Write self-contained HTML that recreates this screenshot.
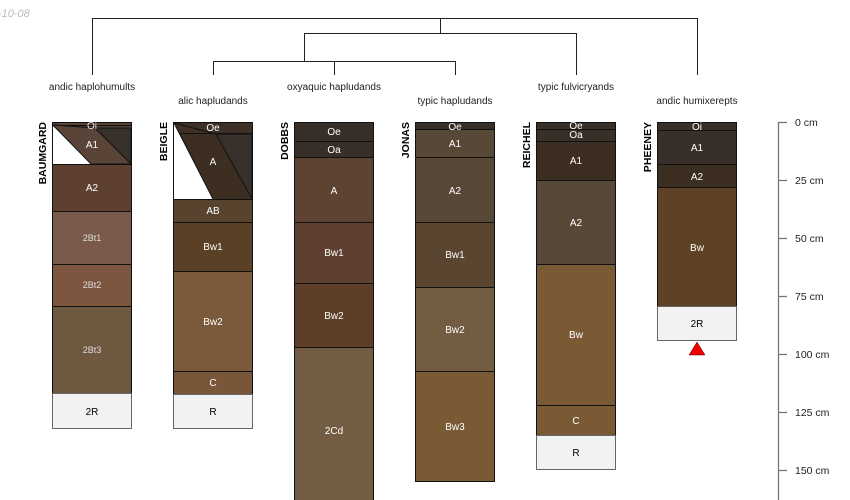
<!DOCTYPE html>
<html><head><meta charset="utf-8"><style>
html,body{margin:0;padding:0;background:#fff;}
svg{display:block;font-family:"Liberation Sans",sans-serif;}
</style></head><body>
<svg width="850" height="500" viewBox="0 0 850 500" xmlns="http://www.w3.org/2000/svg">
<text x="-2" y="17" font-size="11" font-style="italic" fill="#bbb">-10-08</text>
<g stroke="#222" stroke-width="1" fill="none">
<path d="M92.5 75V18.5H697.5V75"/>
<path d="M440.5 18.5V33.5"/>
<path d="M304.5 61V33.5H576.5V75"/>
<path d="M213.5 75V61.5H455.5V75"/>
<path d="M334.5 61.5V75"/>
</g>
<g font-size="10" fill="#222" text-anchor="middle">
<text x="92" y="90">andic haplohumults</text>
<text x="213" y="104">alic hapludands</text>
<text x="334" y="90">oxyaquic hapludands</text>
<text x="455" y="104">typic hapludands</text>
<text x="576" y="90">typic fulvicryands</text>
<text x="697" y="104">andic humixerepts</text>
</g>
<g font-size="10.5" font-weight="bold" fill="#000" text-anchor="end">
<text transform="translate(46,122) rotate(-90)">BAUMGARD</text>
<text transform="translate(167,122) rotate(-90)">BEIGLE</text>
<text transform="translate(288,122) rotate(-90)">DOBBS</text>
<text transform="translate(409,122) rotate(-90)">JONAS</text>
<text transform="translate(530,122) rotate(-90)">REICHEL</text>
<text transform="translate(651,122) rotate(-90)">PHEENEY</text>
</g>
<g stroke="#111" stroke-width="1">
<rect x="52.5" y="122.5" width="79" height="3" fill="#5a4438"/>
<rect x="52.5" y="125.5" width="79" height="39" fill="#5a4438"/>
<polygon points="53,126 91,164 53,164" fill="#fff" stroke="none"/>
<polygon points="53,125 131,164 131,128 95,128" fill="#38302a" stroke="#111"/>
<polygon points="53,125 91,164 131,164 95,128" fill="#5a4438" stroke="#111"/>
<rect x="52.5" y="164.5" width="79" height="47" fill="#5e4030"/>
<rect x="52.5" y="211.5" width="79" height="53" fill="#7a5a4a"/>
<rect x="52.5" y="264.5" width="79" height="42" fill="#7e5640"/>
<rect x="52.5" y="306.5" width="79" height="87" fill="#6e5840"/>
<rect x="52.5" y="393.5" width="79" height="35" fill="#f2f2f2" stroke="#666"/>
<rect x="173.5" y="122.5" width="79" height="11" fill="#3e3026"/>
<rect x="173.5" y="133.5" width="79" height="66" fill="#3d2e22"/>
<polygon points="174,123 213,199 174,199" fill="#fff" stroke="none"/>
<polygon points="216,134 252,134 252,199" fill="#38302a" stroke="#111"/>
<line x1="174" y1="123" x2="213" y2="199"/>
<line x1="174" y1="123" x2="216" y2="134"/>
<rect x="173.5" y="199.5" width="79" height="23" fill="#57432e"/>
<rect x="173.5" y="222.5" width="79" height="49" fill="#5a4025"/>
<rect x="173.5" y="271.5" width="79" height="100" fill="#7a5a3a"/>
<rect x="173.5" y="371.5" width="79" height="23" fill="#7a5638"/>
<rect x="173.5" y="394.5" width="79" height="34" fill="#f2f2f2" stroke="#666"/>
<rect x="294.5" y="122.5" width="79" height="19" fill="#383028"/>
<rect x="294.5" y="141.5" width="79" height="16" fill="#383028"/>
<rect x="294.5" y="157.5" width="79" height="65" fill="#5e4232"/>
<rect x="294.5" y="222.5" width="79" height="61" fill="#5e4030"/>
<rect x="294.5" y="283.5" width="79" height="64" fill="#5e3e28"/>
<rect x="294.5" y="347.5" width="79" height="160" fill="#735d42"/>
<rect x="415.5" y="122.5" width="79" height="7" fill="#383028"/>
<rect x="415.5" y="129.5" width="79" height="28" fill="#574838"/>
<rect x="415.5" y="157.5" width="79" height="65" fill="#574838"/>
<rect x="415.5" y="222.5" width="79" height="65" fill="#5a4530"/>
<rect x="415.5" y="287.5" width="79" height="84" fill="#735d42"/>
<rect x="415.5" y="371.5" width="79" height="110" fill="#7a5a35"/>
<rect x="536.5" y="122.5" width="79" height="7" fill="#383028"/>
<rect x="536.5" y="129.5" width="79" height="12" fill="#383028"/>
<rect x="536.5" y="141.5" width="79" height="39" fill="#3d2e22"/>
<rect x="536.5" y="180.5" width="79" height="84" fill="#574838"/>
<rect x="536.5" y="264.5" width="79" height="141" fill="#7a5a35"/>
<rect x="536.5" y="405.5" width="79" height="30" fill="#7a5a35"/>
<rect x="536.5" y="435.5" width="79" height="34" fill="#f2f2f2" stroke="#666"/>
<rect x="657.5" y="122.5" width="79" height="8" fill="#383028"/>
<rect x="657.5" y="130.5" width="79" height="34" fill="#383028"/>
<rect x="657.5" y="164.5" width="79" height="23" fill="#3d2e22"/>
<rect x="657.5" y="187.5" width="79" height="119" fill="#5e4225"/>
<rect x="657.5" y="306.5" width="79" height="34" fill="#f2f2f2" stroke="#666"/>
</g>
<polygon points="697,342 705,355 689,355" fill="#e00" stroke="#600" stroke-width="0.5"/>
<g font-size="10" fill="#fff" text-anchor="middle">
<text x="92" y="129" fill="#ddd">Oi</text>
<text x="92" y="148">A1</text>
<text x="92" y="191">A2</text>
<text x="92" y="241" font-size="9" fill="#ddd">2Bt1</text>
<text x="92" y="288" font-size="9" fill="#ddd">2Bt2</text>
<text x="92" y="353" font-size="9" fill="#ddd">2Bt3</text>
<text x="92" y="415" fill="#000">2R</text>
<text x="213" y="131">Oe</text>
<text x="213" y="165">A</text>
<text x="213" y="214">AB</text>
<text x="213" y="250">Bw1</text>
<text x="213" y="325">Bw2</text>
<text x="213" y="386">C</text>
<text x="213" y="415" fill="#000">R</text>
<text x="334" y="135">Oe</text>
<text x="334" y="153">Oa</text>
<text x="334" y="194">A</text>
<text x="334" y="256">Bw1</text>
<text x="334" y="319">Bw2</text>
<text x="334" y="434">2Cd</text>
<text x="455" y="130">Oe</text>
<text x="455" y="147">A1</text>
<text x="455" y="194">A2</text>
<text x="455" y="258">Bw1</text>
<text x="455" y="333">Bw2</text>
<text x="455" y="430">Bw3</text>
<text x="576" y="129">Oe</text>
<text x="576" y="138">Oa</text>
<text x="576" y="164">A1</text>
<text x="576" y="226">A2</text>
<text x="576" y="338">Bw</text>
<text x="576" y="424">C</text>
<text x="576" y="456" fill="#000">R</text>
<text x="697" y="130">Oi</text>
<text x="697" y="151">A1</text>
<text x="697" y="180">A2</text>
<text x="697" y="251">Bw</text>
<text x="697" y="327" fill="#000">2R</text>
</g>
<g stroke="#777" stroke-width="1.3">
<line x1="778.5" y1="122" x2="778.5" y2="500"/>
<line x1="778" y1="122.5" x2="787" y2="122.5"/>
<line x1="778" y1="180.5" x2="787" y2="180.5"/>
<line x1="778" y1="238.5" x2="787" y2="238.5"/>
<line x1="778" y1="296.5" x2="787" y2="296.5"/>
<line x1="778" y1="354.5" x2="787" y2="354.5"/>
<line x1="778" y1="412.5" x2="787" y2="412.5"/>
<line x1="778" y1="470.5" x2="787" y2="470.5"/>
</g>
<g font-size="10.5" fill="#222">
<text x="795" y="126">0 cm</text>
<text x="795" y="184">25 cm</text>
<text x="795" y="242">50 cm</text>
<text x="795" y="300">75 cm</text>
<text x="795" y="358">100 cm</text>
<text x="795" y="416">125 cm</text>
<text x="795" y="474">150 cm</text>
</g>
</svg>
</body></html>
